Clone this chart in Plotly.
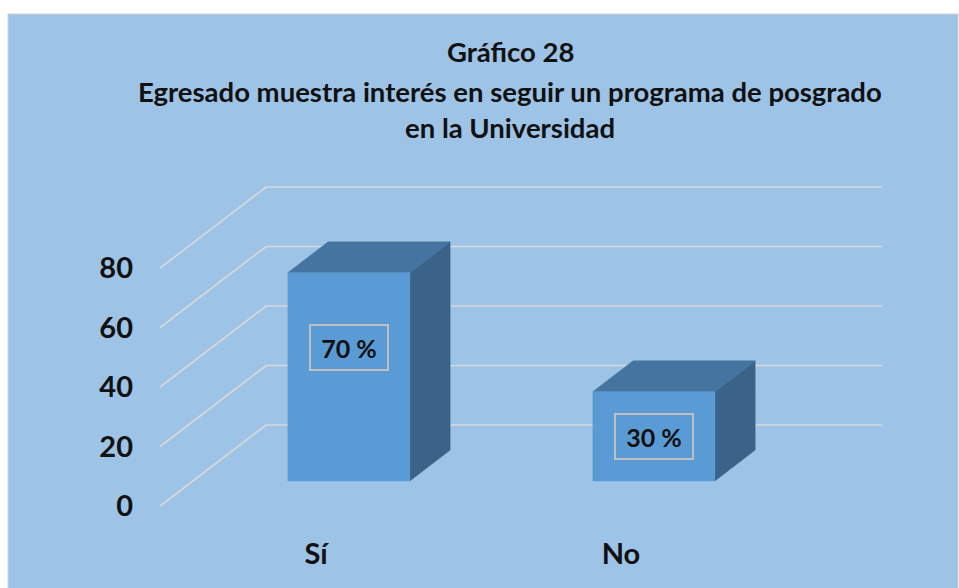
import plotly.graph_objects as go

# ---- data ----
categories = ["Sí", "No"]
values = [70, 30]
label_texts = ["70 %", "30 %"]
y_ticks = [0, 20, 40, 60, 80]
title_lines = ["Gráfico 28",
               "Egresado muestra interés en seguir un programa de posgrado",
               "en la Universidad"]

# ---- layout / projection constants (style) ----
W, H = 959, 588
X0_PX, CAT_PX = 316, 305        # pixel of category 0, pixels per category
Y0_PX, VAL_PX = 506, 2.975      # pixel of value 0 (front plane), pixels per unit
L, R, T, B = 140, 0, 150, 62
DX = 106 / CAT_PX               # depth offset (category units)
DY = 81 / VAL_PX                # depth offset (value units)
BW, D1, D2 = 0.40, 0.31, 0.69   # bar width, front/back depth fractions
WALL_L, WALL_R = -0.511, 1.508
LABEL_SHIFT = [29, 0]

BG = "#9DC3E6"
FRONT, TOP, SIDE = "#5B9BD5", "#44749F", "#3A6387"
GRID = "#D9D9D9"
FONT = "Lato, 'Open Sans', sans-serif"

xrange = [(L - X0_PX) / CAT_PX, (W - R - X0_PX) / CAT_PX]
yrange = [(Y0_PX - (H - B)) / VAL_PX, (Y0_PX - T) / VAL_PX]


def paper(xp, yp):
    """page pixel -> paper coords"""
    return (xp - L) / (W - L - R), ((H - B) - yp) / (H - T - B)


fig = go.Figure()

# gridlines on back wall + left wall diagonals
for v in y_ticks:
    fig.add_trace(go.Scatter(
        x=[WALL_L, WALL_L + DX, WALL_R + DX],
        y=[v, v + DY, v + DY],
        mode="lines", line=dict(color=GRID, width=1.6),
        hoverinfo="skip", showlegend=False))

# 3D bars
for i, v in enumerate(values):
    c = i
    xf0 = c - BW / 2 + D1 * DX
    xf1 = xf0 + BW
    xb0 = c - BW / 2 + D2 * DX
    xb1 = xb0 + BW
    yf0, yf1 = D1 * DY, v + D1 * DY
    yb0, yb1 = D2 * DY, v + D2 * DY
    faces = [
        ([xf1, xf1, xb1, xb1, xf1], [yf0, yf1, yb1, yb0, yf0], SIDE),
        ([xf0, xf1, xb1, xb0, xf0], [yf1, yf1, yb1, yb1, yf1], TOP),
        ([xf0, xf1, xf1, xf0, xf0], [yf0, yf0, yf1, yf1, yf0], FRONT),
    ]
    for fx, fy, col in faces:
        fig.add_trace(go.Scatter(
            x=fx, y=fy, mode="lines", fill="toself", fillcolor=col,
            line=dict(color=col, width=0.5),
            hoverinfo="skip", showlegend=False))
    fig.add_annotation(
        x=c + D1 * DX, y=D1 * DY + v / 2, xref="x", yref="y",
        text=label_texts[i], showarrow=False, yshift=LABEL_SHIFT[i],
        font=dict(family=FONT, size=25, color="#111111", weight="bold"),
        bordercolor="#BFBFBF", borderwidth=2, borderpad=1,
        width=74, height=41)

# background panel
px0, py0 = paper(8, 14)
px1, py1 = paper(W - 1, H + 4)
fig.add_shape(type="rect", xref="paper", yref="paper",
              x0=px0, y0=py1, x1=px1, y1=py0,
              fillcolor=BG, line=dict(color="#D0D0D0", width=1),
              layer="below")

# title lines
for text, yp in zip(title_lines, [52, 91, 127]):
    ax, ay = paper(510, yp)
    fig.add_annotation(x=ax, y=ay, xref="paper", yref="paper",
                       text=text, showarrow=False, xanchor="center",
                       yanchor="middle",
                       font=dict(family=FONT, size=27.5, color="#111111",
                                 weight="bold"))

fig.update_layout(
    width=W, height=H,
    margin=dict(l=L, r=R, t=T, b=B, pad=0),
    paper_bgcolor="white", plot_bgcolor="rgba(0,0,0,0)",
    showlegend=False,
    xaxis=dict(range=xrange, tickvals=[0, 1], ticktext=categories,
               showgrid=False, zeroline=False, showline=False, ticks="",
               ticklabelstandoff=8, fixedrange=True,
               tickfont=dict(family=FONT, size=29, color="#111111",
                             weight="bold")),
    yaxis=dict(range=yrange, tickvals=y_ticks,
               showgrid=False, zeroline=False, showline=False, ticks="",
               ticklabelstandoff=6, fixedrange=True,
               tickfont=dict(family=FONT, size=29, color="#111111",
                             weight="bold")),
)

fig.write_html(
    "out.html",
    config={"displayModeBar": False, "staticPlot": True},
    post_script="document.body.style.margin='0';"
                "document.body.style.overflow='hidden';")
